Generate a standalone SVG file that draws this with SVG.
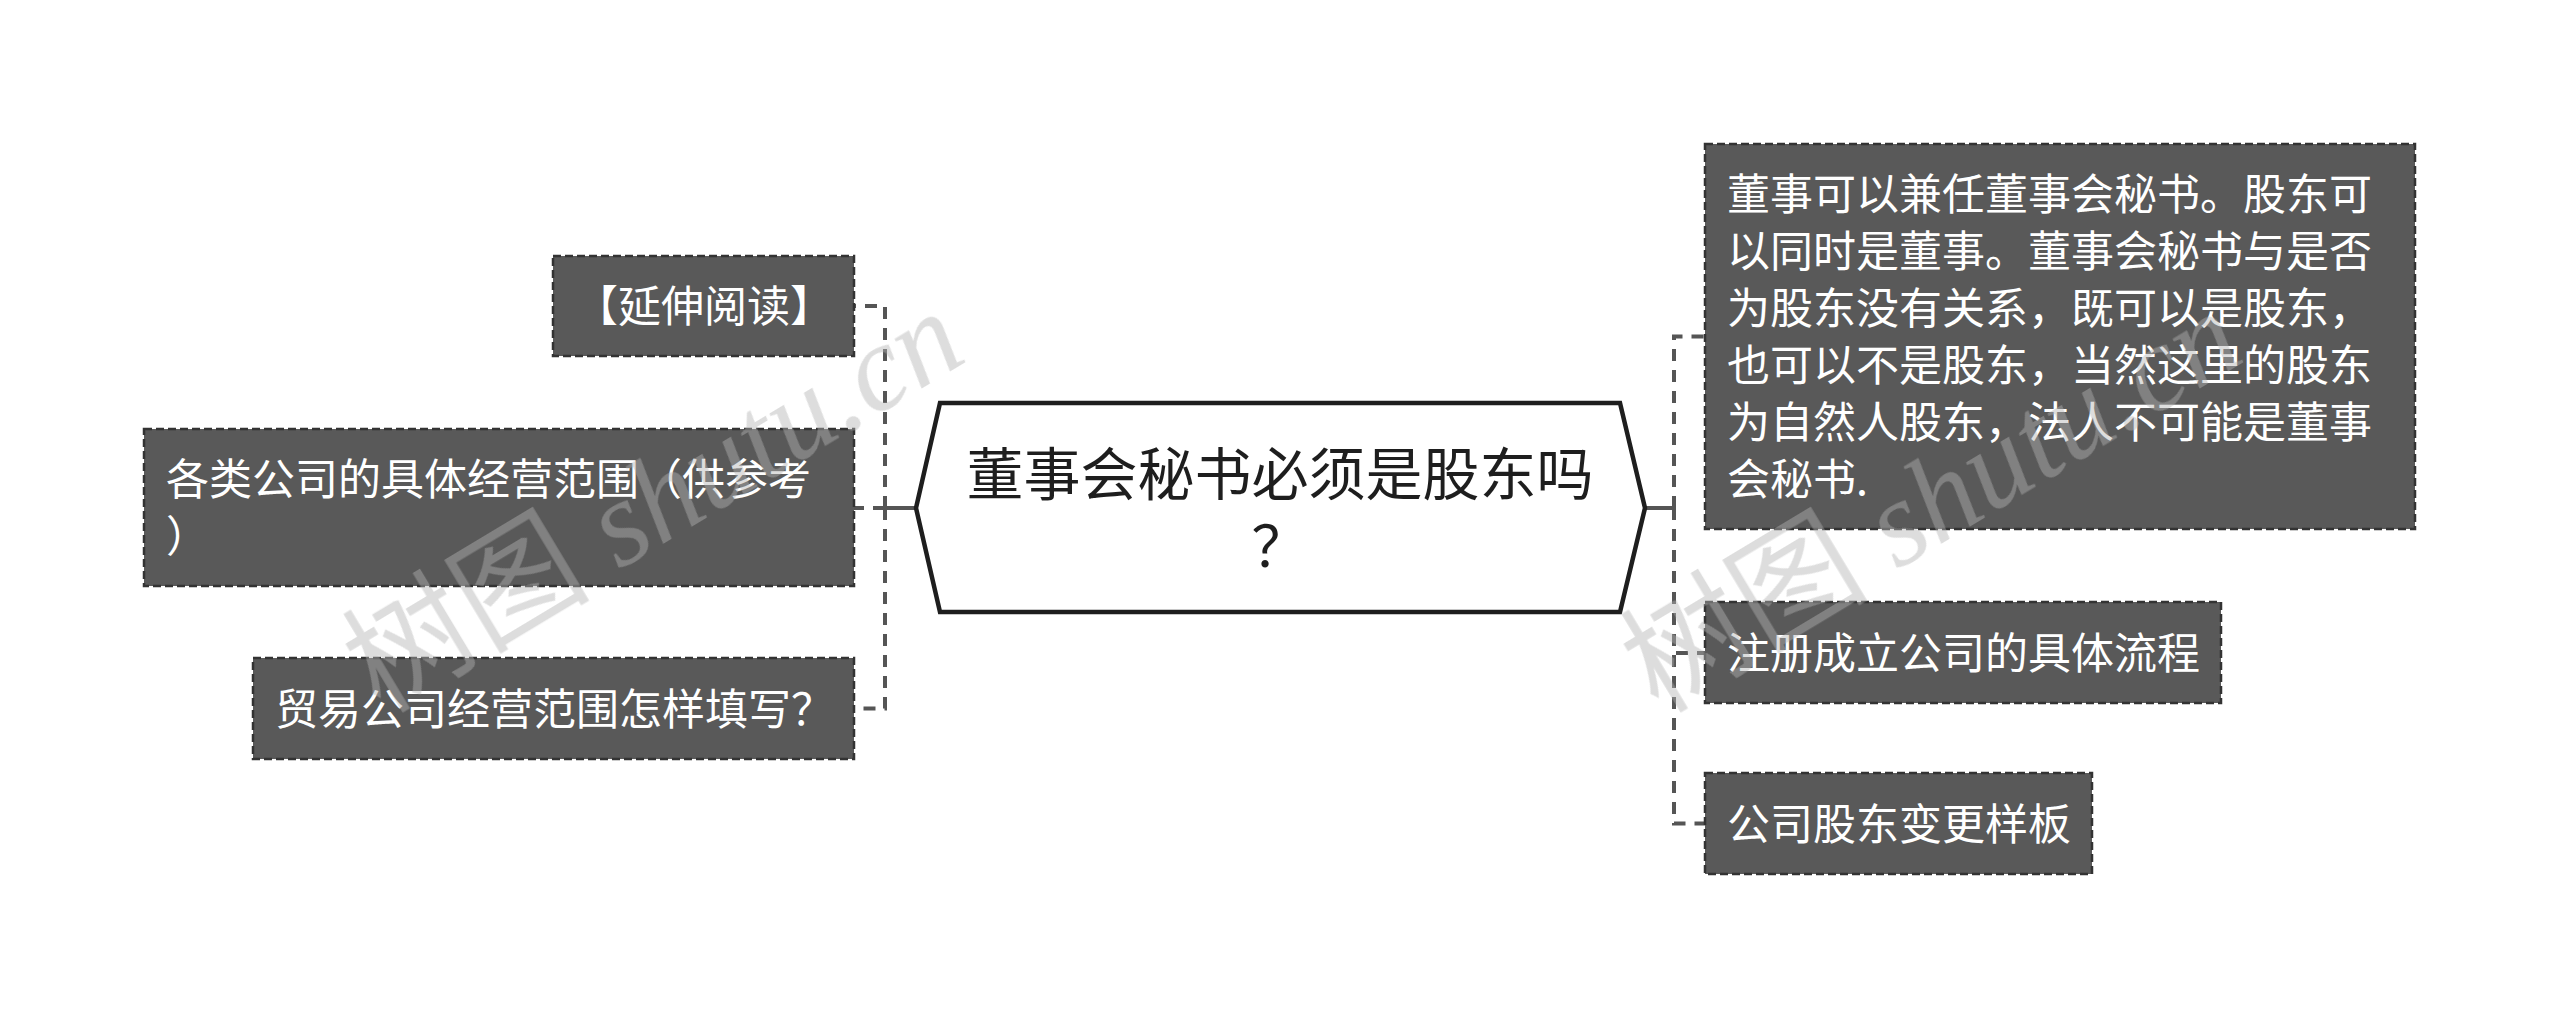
<svg xmlns="http://www.w3.org/2000/svg" width="2560" height="1017" viewBox="0 0 2560 1017">
<style>
.node rect{fill:#595959;stroke:#333;stroke-width:2.5;stroke-dasharray:8 4}
.node text{fill:#fff;font-family:"Noto Sans CJK SC","Noto Sans",sans-serif;font-size:43px}
.conn path{fill:none;stroke:#555;stroke-width:4}
.conn .d{stroke-dasharray:12 9}
.center polygon{fill:#fff;stroke:#1e1e1e;stroke-width:4.5}
.center text{fill:#1e1e1e;font-family:"Noto Sans CJK SC","Noto Sans",sans-serif;font-size:57px;text-anchor:middle}
.wm{fill:#b4b4b4;opacity:0.45;font-size:124px}
.wm .cjk{font-family:"Noto Sans CJK SC",serif}
.wm .lat{font-family:"Liberation Serif",serif;font-style:italic;font-size:122px}
</style>
<rect width="2560" height="1017" fill="#fff"/>
<g class="conn" id="connectors">
<path d="M916 508 H885"/>
<path class="d" d="M885 508 H854"/>
<path class="d" d="M885 508 V306 H854"/>
<path class="d" d="M885 508 V708.5 H854"/>
<path d="M1645 508 H1674"/>
<path class="d" d="M1674 508 V336.5 H1705"/>
<path class="d" d="M1674 508 V653 H1705"/>
<path class="d" d="M1674 508 V823.5 H1705"/>
</g>
<g class="center" id="root">
<polygon points="940,403 1620,403 1645,508 1620,612 940,612 916,508"/>
<text x="1280" y="495">董事会秘书必须是股东吗</text>
<text x="1280" y="567">？</text>
</g>
<g class="node" id="left1">
<rect x="553" y="256" width="301" height="100"/>
<text x="575" y="322">【延伸阅读】</text>
</g>
<g class="node" id="left2">
<rect x="144" y="429" width="710" height="157"/>
<text x="166" y="495">各类公司的具体经营范围（供参考</text>
<text x="166" y="552">）</text>
</g>
<g class="node" id="left3">
<rect x="253" y="658" width="601" height="101"/>
<text x="275" y="725">贸易公司经营范围怎样填写？</text>
</g>
<g class="node" id="right1">
<rect x="1705" y="144" width="710" height="385"/>
<text x="1727" y="210">董事可以兼任董事会秘书。股东可</text>
<text x="1727" y="267">以同时是董事。董事会秘书与是否</text>
<text x="1727" y="324">为股东没有关系，既可以是股东，</text>
<text x="1727" y="381">也可以不是股东，当然这里的股东</text>
<text x="1727" y="438">为自然人股东，法人不可能是董事</text>
<text x="1727" y="495">会秘书.</text>
</g>
<g class="node" id="right2">
<rect x="1705" y="602" width="516" height="101"/>
<text x="1727" y="669">注册成立公司的具体流程</text>
</g>
<g class="node" id="right3">
<rect x="1705" y="773" width="387" height="101"/>
<text x="1727" y="840">公司股东变更样板</text>
</g>
<g class="wm">
<text transform="translate(380,714) rotate(-31)"><tspan class="cjk">树图</tspan><tspan class="lat"> shutu.cn</tspan></text>
<text transform="translate(1658,714) rotate(-31)"><tspan class="cjk">树图</tspan><tspan class="lat"> shutu.cn</tspan></text>
</g>
</svg>
